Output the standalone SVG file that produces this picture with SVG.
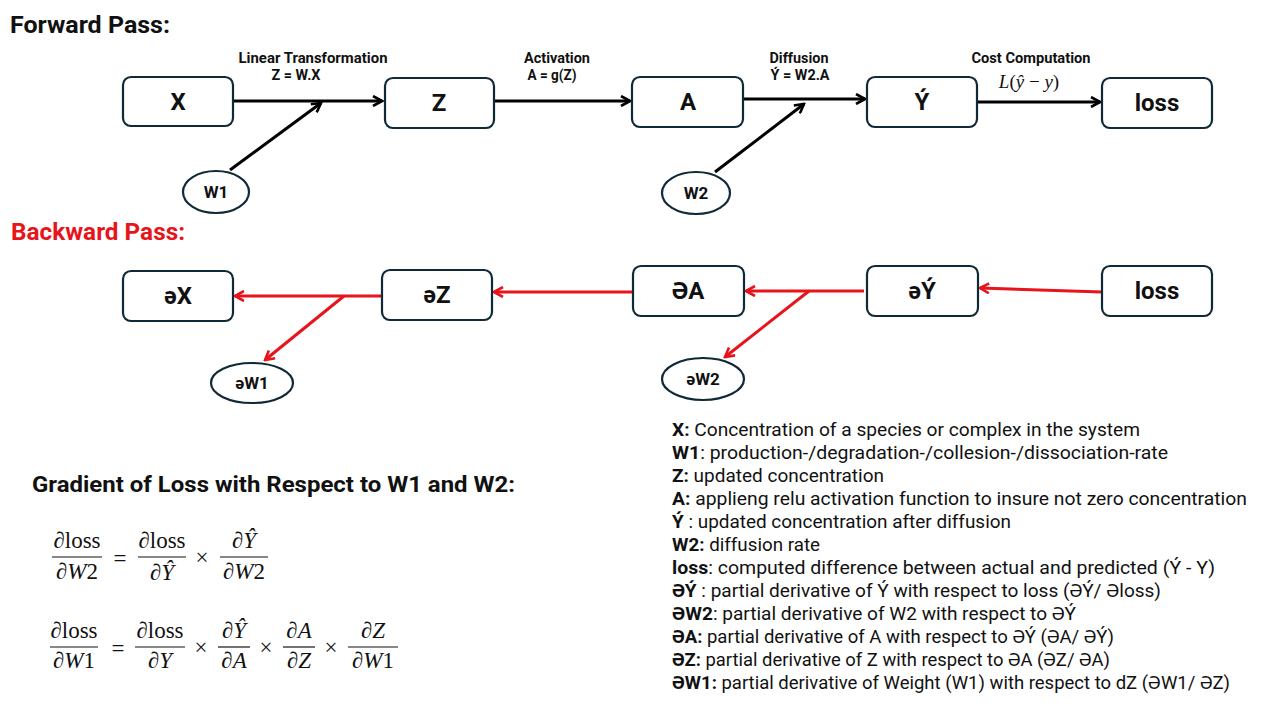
<svg xmlns="http://www.w3.org/2000/svg" width="1262" height="706" viewBox="0 0 1262 706">
<defs>
<style>
.bg{fill:#ffffff}
.box{fill:#ffffff;stroke:#0f2a36;stroke-width:2.2}
.title{font-family:Roboto,"DejaVu Sans",sans-serif;font-weight:bold;font-size:23px;fill:#111}
.red{fill:#e8141b}
.node{font-family:Roboto,"DejaVu Sans",sans-serif;font-weight:bold;font-size:24px;fill:#111;text-anchor:middle}
.onode{font-family:Roboto,"DejaVu Sans",sans-serif;font-weight:bold;font-size:17px;fill:#111;text-anchor:middle}
.lbl{font-family:Roboto,"DejaVu Sans",sans-serif;font-weight:bold;font-size:14px;fill:#111;text-anchor:middle}
.fw{stroke:#000;stroke-width:3;fill:none}
.bw{stroke:#e8141b;stroke-width:3;fill:none}
.leg{font-family:Roboto,"DejaVu Sans",sans-serif;font-size:18px;fill:#111}
.leg tspan.b{font-weight:bold}
.m{font-family:"Liberation Serif","DejaVu Serif",serif;font-size:23px;fill:#111;text-anchor:middle}
.mi{font-style:italic}
.bar{stroke:#111;stroke-width:1.2}
.h2{font-family:Roboto,"DejaVu Sans",sans-serif;font-weight:bold;font-size:22px;fill:#111}
</style>
<marker id="ab" viewBox="0 0 12 12" refX="10" refY="6" markerWidth="12" markerHeight="12" markerUnits="userSpaceOnUse" orient="auto">
<path d="M1,1 L10,6 L1,11" fill="none" stroke="#000" stroke-width="2.6"/>
</marker>
<marker id="ar" viewBox="0 0 12 12" refX="10" refY="6" markerWidth="12" markerHeight="12" markerUnits="userSpaceOnUse" orient="auto">
<path d="M1,1 L10,6 L1,11" fill="none" stroke="#e8141b" stroke-width="2.6"/>
</marker>
</defs>
<rect class="bg" x="0" y="0" width="1262" height="706"/>

<text class="title" x="10" y="33" textLength="160" lengthAdjust="spacingAndGlyphs">Forward Pass:</text>
<text class="title red" x="11" y="240" textLength="174" lengthAdjust="spacingAndGlyphs">Backward Pass:</text>

<g id="connectors">
<line class="fw" x1="233" y1="101" x2="382" y2="101" marker-end="url(#ab)"/>
<line class="fw" x1="230" y1="170" x2="321" y2="103" marker-end="url(#ab)"/>
<line class="fw" x1="494" y1="101" x2="630" y2="101" marker-end="url(#ab)"/>
<line class="fw" x1="743" y1="99" x2="865" y2="99" marker-end="url(#ab)"/>
<line class="fw" x1="715" y1="172" x2="804" y2="104" marker-end="url(#ab)"/>
<line class="fw" x1="977" y1="102" x2="1100" y2="102" marker-end="url(#ab)"/>
<line class="bw" x1="1102" y1="292" x2="980" y2="288" marker-end="url(#ar)"/>
<line class="bw" x1="864" y1="291" x2="746" y2="291" marker-end="url(#ar)"/>
<line class="bw" x1="809" y1="291" x2="725" y2="357" marker-end="url(#ar)"/>
<line class="bw" x1="633" y1="292" x2="494" y2="292" marker-end="url(#ar)"/>
<line class="bw" x1="382" y1="296" x2="235" y2="296" marker-end="url(#ar)"/>
<line class="bw" x1="344" y1="296" x2="265" y2="360" marker-end="url(#ar)"/>
<text class="lbl" x="313" y="63" textLength="149" lengthAdjust="spacingAndGlyphs">Linear Transformation</text>
<text class="lbl" x="296" y="80" textLength="49" lengthAdjust="spacingAndGlyphs">Z = W.X</text>
<text class="lbl" x="557" y="63" textLength="66" lengthAdjust="spacingAndGlyphs">Activation</text>
<text class="lbl" x="552" y="80" textLength="49" lengthAdjust="spacingAndGlyphs">A = g(Z)</text>
<text class="lbl" x="799" y="63" textLength="59" lengthAdjust="spacingAndGlyphs">Diffusion</text>
<text class="lbl" x="800" y="80" textLength="59" lengthAdjust="spacingAndGlyphs">Ý = W2.A</text>
<text class="lbl" x="1031" y="63" textLength="119" lengthAdjust="spacingAndGlyphs">Cost Computation</text>
<text class="m" x="1029" y="88" style="font-size:19px"><tspan class="mi">L</tspan>(<tspan class="mi">ŷ</tspan> − <tspan class="mi">y</tspan>)</text>
</g>

<g id="node-X"><rect class="box" x="123" y="77" width="110" height="49" rx="8"/><text class="node" x="178" y="110">X</text></g>
<g id="node-Z"><rect class="box" x="385" y="78" width="109" height="50" rx="8"/><text class="node" x="439" y="111">Z</text></g>
<g id="node-A"><rect class="box" x="632" y="77" width="111" height="50" rx="8"/><text class="node" x="688" y="110">A</text></g>
<g id="node-Yhat"><rect class="box" x="867" y="77" width="110" height="50" rx="8"/><text class="node" x="922" y="110">Ý</text></g>
<g id="node-loss"><rect class="box" x="1102" y="78" width="110" height="50" rx="8"/><text class="node" x="1157" y="111">loss</text></g>
<g id="node-W1"><ellipse class="box" cx="216" cy="192" rx="33" ry="21"/><text class="onode" x="216" y="198">W1</text></g>
<g id="node-W2"><ellipse class="box" cx="696" cy="193" rx="34" ry="21"/><text class="onode" x="696" y="199">W2</text></g>

<g id="node-dX"><rect class="box" x="123" y="271" width="110" height="50" rx="8"/><text class="node" x="178" y="304">əX</text></g>
<g id="node-dZ"><rect class="box" x="382" y="270" width="110" height="50" rx="8"/><text class="node" x="437" y="303">əZ</text></g>
<g id="node-dA"><rect class="box" x="633" y="266" width="111" height="50" rx="8"/><text class="node" x="688" y="299">ƏA</text></g>
<g id="node-dYhat"><rect class="box" x="867" y="266" width="111" height="50" rx="8"/><text class="node" x="922" y="299">əÝ</text></g>
<g id="node-loss2"><rect class="box" x="1102" y="266" width="110" height="50" rx="8"/><text class="node" x="1157" y="299">loss</text></g>
<g id="node-dW1"><ellipse class="box" cx="252" cy="383" rx="41" ry="20"/><text class="onode" x="252" y="389">əW1</text></g>
<g id="node-dW2"><ellipse class="box" cx="703" cy="379" rx="41" ry="21"/><text class="onode" x="703" y="385">əW2</text></g>

<text class="h2" x="32" y="492" textLength="483" lengthAdjust="spacingAndGlyphs">Gradient of Loss with Respect to W1 and W2:</text>

<g id="formula1">
<text class="m" x="77" y="548">∂loss</text><line class="bar" x1="52" y1="557" x2="102" y2="557"/><text class="m" x="77" y="579">∂<tspan class="mi">W</tspan>2</text>
<text class="m" x="120" y="566">=</text>
<text class="m" x="162" y="548">∂loss</text><line class="bar" x1="138" y1="557" x2="186" y2="557"/><text class="m" x="162" y="580">∂<tspan class="mi">Ŷ</tspan></text>
<text class="m" x="202" y="565">×</text>
<text class="m" x="244" y="548">∂<tspan class="mi">Ŷ</tspan></text><line class="bar" x1="220" y1="557" x2="268" y2="557"/><text class="m" x="244" y="579">∂<tspan class="mi">W</tspan>2</text>
</g>
<g id="formula2">
<text class="m" x="74" y="638">∂loss</text><line class="bar" x1="50" y1="647" x2="98" y2="647"/><text class="m" x="74" y="668">∂<tspan class="mi">W</tspan>1</text>
<text class="m" x="118" y="656">=</text>
<text class="m" x="160" y="638">∂loss</text><line class="bar" x1="135" y1="647" x2="185" y2="647"/><text class="m" x="160" y="668">∂<tspan class="mi">Y</tspan></text>
<text class="m" x="201" y="655">×</text>
<text class="m" x="234" y="638">∂<tspan class="mi">Ŷ</tspan></text><line class="bar" x1="218" y1="647" x2="250" y2="647"/><text class="m" x="234" y="668">∂<tspan class="mi">A</tspan></text>
<text class="m" x="266" y="655">×</text>
<text class="m" x="299" y="638">∂<tspan class="mi">A</tspan></text><line class="bar" x1="283" y1="647" x2="315" y2="647"/><text class="m" x="299" y="668">∂<tspan class="mi">Z</tspan></text>
<text class="m" x="331" y="655">×</text>
<text class="m" x="373" y="638">∂<tspan class="mi">Z</tspan></text><line class="bar" x1="348" y1="647" x2="398" y2="647"/><text class="m" x="373" y="668">∂<tspan class="mi">W</tspan>1</text>
</g>

<g id="legend">
<text class="leg" x="672" y="436" textLength="468" lengthAdjust="spacingAndGlyphs"><tspan class="b">X:</tspan> Concentration of a species or complex in the system</text>
<text class="leg" x="672" y="459" textLength="496" lengthAdjust="spacingAndGlyphs"><tspan class="b">W1</tspan>: production-/degradation-/collesion-/dissociation-rate</text>
<text class="leg" x="672" y="482" textLength="212" lengthAdjust="spacingAndGlyphs"><tspan class="b">Z:</tspan> updated concentration</text>
<text class="leg" x="672" y="505" textLength="575" lengthAdjust="spacingAndGlyphs"><tspan class="b">A:</tspan> applieng relu activation function to insure not zero concentration</text>
<text class="leg" x="672" y="528" textLength="339" lengthAdjust="spacingAndGlyphs"><tspan class="b">Ý</tspan> : updated concentration after diffusion</text>
<text class="leg" x="672" y="551" textLength="148" lengthAdjust="spacingAndGlyphs"><tspan class="b">W2:</tspan> diffusion rate</text>
<text class="leg" x="672" y="574" textLength="543" lengthAdjust="spacingAndGlyphs"><tspan class="b">loss</tspan>: computed difference between actual and predicted (Ý - Y)</text>
<text class="leg" x="672" y="597" textLength="489" lengthAdjust="spacingAndGlyphs"><tspan class="b">ƏÝ</tspan> : partial derivative of Ý with respect to loss (ƏÝ/ Əloss)</text>
<text class="leg" x="672" y="620" textLength="404" lengthAdjust="spacingAndGlyphs"><tspan class="b">ƏW2</tspan>: partial derivative of W2 with respect to ƏÝ</text>
<text class="leg" x="672" y="643" textLength="442" lengthAdjust="spacingAndGlyphs"><tspan class="b">ƏA:</tspan> partial derivative of A with respect to ƏÝ (ƏA/ ƏÝ)</text>
<text class="leg" x="672" y="666" textLength="438" lengthAdjust="spacingAndGlyphs"><tspan class="b">ƏZ:</tspan> partial derivative of Z with respect to ƏA (ƏZ/ ƏA)</text>
<text class="leg" x="672" y="689" textLength="558" lengthAdjust="spacingAndGlyphs"><tspan class="b">ƏW1:</tspan> partial derivative of Weight (W1) with respect to dZ (ƏW1/ ƏZ)</text>
</g>
</svg>
